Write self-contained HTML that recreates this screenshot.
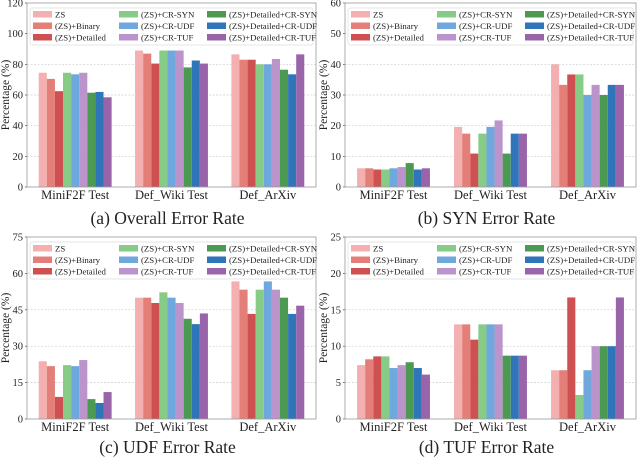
<!DOCTYPE html>
<html><head><meta charset="utf-8">
<style>
body{margin:0;background:#fff;}
svg{display:block;font-family:"Liberation Serif",serif;}
</style></head>
<body>
<svg id="chart" width="640" height="460" viewBox="0 0 640 460" xmlns="http://www.w3.org/2000/svg"></svg>
<script>
const categories = ["MiniF2F Test","Def_Wiki Test","Def_ArXiv"];
const seriesNames = ["ZS","(ZS)+Binary","(ZS)+Detailed","(ZS)+CR-SYN","(ZS)+CR-UDF","(ZS)+CR-TUF","(ZS)+Detailed+CR-SYN","(ZS)+Detailed+CR-UDF","(ZS)+Detailed+CR-TUF"];
const seriesColors = ["#f4b0b0","#e37f78","#cf5050","#86cc86","#6fa8dc","#bc94cc","#4c9a52","#2f75ba","#9a64ab"];
const overallValues = [[74.5,70.5,62.5,74.5,73.5,74.5,61.5,62,58.5],[89,87,80.5,89,89,89,78,82.5,80.5],[86.5,83,83,80,80,83.5,76.5,73.5,86.5]];
const synValues = [[6.1,6.1,5.7,5.7,6.1,6.5,7.8,5.7,6.1],[19.6,17.4,10.9,17.4,19.6,21.7,10.9,17.4,17.4],[40,33.3,36.7,36.7,30,33.3,30,33.3,33.3]];
const udfValues = [[23.8,21.8,9.1,22.2,21.8,24.3,8.2,6.6,11.1],[50,50,47.8,52.2,50,47.8,41.3,39.1,43.5],[56.7,53.3,43.3,53.3,56.7,53.3,50,43.3,46.7]];
const tufValues = [[7.4,8.2,8.6,8.6,7,7.4,7.8,7,6.1],[13,13,10.9,13,13,13,8.7,8.7,8.7],[6.7,6.7,16.7,3.3,6.7,10,10,10,16.7]];
const overallTicks = [0,20,40,60,80,100,120];
const synTicks = [0,10,20,30,40,50,60];
const udfTicks = [0,15,30,45,60,75];
const tufTicks = [0,5,10,15,20,25];

const NS="http://www.w3.org/2000/svg";
const svg=document.getElementById('chart');
function mk(tag,attrs,parent){const e=document.createElementNS(NS,tag);for(const k in attrs)e.setAttribute(k,attrs[k]);(parent||svg).appendChild(e);return e;}

const panels=[
 {id:"overall",vals:overallValues,ticks:overallTicks,caption:"(a) Overall Error Rate",L:27,R:316,T:3,B:187,cap:218},
 {id:"syn",vals:synValues,ticks:synTicks,caption:"(b) SYN Error Rate",L:345,R:636,T:3,B:187,cap:218},
 {id:"udf",vals:udfValues,ticks:udfTicks,caption:"(c) UDF Error Rate",L:27,R:316,T:237,B:419,cap:447},
 {id:"tuf",vals:tufValues,ticks:tufTicks,caption:"(d) TUF Error Rate",L:345,R:636,T:237,B:419,cap:447}
];

panels.forEach(p=>{
  const g=mk('g',{});
  
  
  const maxV=p.ticks[p.ticks.length-1];
  const y=v=>p.B-(v/maxV)*(p.B-p.T);
  const W=p.R-p.L;
  const gw=W/3;
  const bw=8.1;
  const x=(ci,si)=>p.L+gw*(ci+0.5)-bw*4.5+bw*si;
  p.ticks.forEach(t=>{
    if(t>0&&t<maxV){const gl=mk('line',{x1:p.L,x2:p.R,y1:y(t),y2:y(t),stroke:"#cccccc","stroke-width":0.7,"stroke-dasharray":"2,1.5"},g);
      }
    const tl=mk('text',{x:p.L-4,y:y(t)+3.5,"text-anchor":"end","font-size":"10.5",fill:"#222"},g);
    tl.textContent=t;
    
    mk('line',{x1:p.L-2,x2:p.L,y1:y(t),y2:y(t),stroke:"#444","stroke-width":0.7},g);
  });
  p.vals.forEach((row,ci)=>{
    row.forEach((v,si)=>{
      const b=mk('rect',{x:x(ci,si),y:y(v),width:bw,height:p.B-y(v),fill:seriesColors[si]},g);
      
      
    });
    const cl=mk('text',{x:p.L+gw*(ci+0.5),y:p.B+12,"text-anchor":"middle","font-size":"12.5",fill:"#222"},g);
    cl.textContent=categories[ci];
    
  });
  const fr=mk('rect',{x:p.L,y:p.T,width:W,height:p.B-p.T,fill:"none",stroke:"#999","stroke-width":0.8},g);
  
  const cy=(p.T+p.B)/2, lx=p.L-18;
  const yl=mk('text',{x:lx,y:cy,"text-anchor":"middle","font-size":"11.5",fill:"#222",transform:`rotate(-90 ${lx} ${cy})`},g);
  yl.textContent="Percentage (%)";
  
  const lg=mk('g',{},g);
  
  mk('rect',{x:p.L+3,y:p.T+5,width:W-6,height:37,fill:"#fff","fill-opacity":0.85,stroke:"#ddd","stroke-width":0.7,rx:2},lg);
  const colX=[p.L+6,p.L+92,p.L+180];
  seriesNames.forEach((n,si)=>{
    const c=Math.floor(si/3), r=si%3;
    const ly=p.T+11+r*11.5;
    const sw=mk('rect',{x:colX[c],y:ly-3,width:19,height:6.5,fill:seriesColors[si]},lg);
    
    const t=mk('text',{x:colX[c]+22,y:ly+3.3,"font-size":"8.8",fill:"#222"},lg);
    t.textContent=n;
    
  });
  const cp=mk('text',{x:(p.L+p.R)/2-4,y:p.cap+6,"text-anchor":"middle","font-size":"17.5",fill:"#222"},g);
  cp.textContent=p.caption;
  
});
</script>
</body></html>
